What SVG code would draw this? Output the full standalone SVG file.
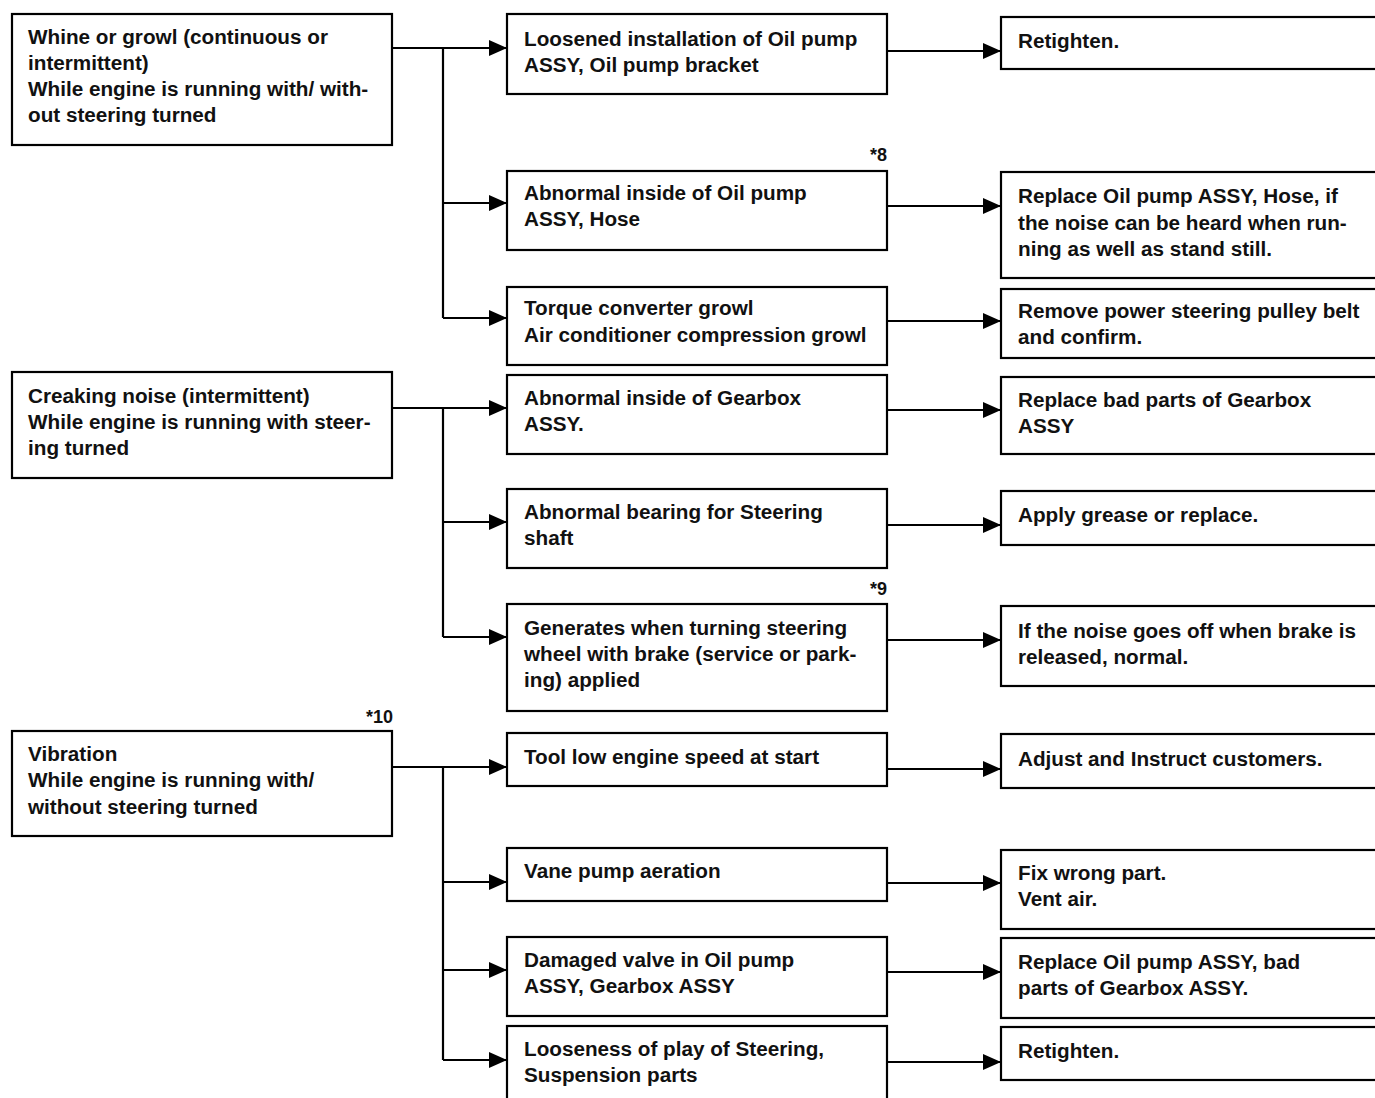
<svg xmlns="http://www.w3.org/2000/svg" width="1375" height="1098" viewBox="0 0 1375 1098">
<style>
.box{fill:#fff;stroke:#000;stroke-width:2.2}
.t{font-family:"Liberation Sans",Arial,Helvetica,sans-serif;font-size:20.7px;font-weight:bold;fill:#111}
.n{font-family:"Liberation Sans",Arial,Helvetica,sans-serif;font-size:18px;font-weight:bold;fill:#111;text-anchor:end}
.c{fill:none;stroke:#000;stroke-width:2.2}
</style>
<defs>
<marker id="ah" markerUnits="userSpaceOnUse" markerWidth="19" markerHeight="16" refX="18" refY="8" orient="auto">
<path d="M0,0 L18,8 L0,16 z" fill="#000"/>
</marker>
</defs>
<rect width="1375" height="1098" fill="#fff"/>

<g id="connectors">
<path class="c" d="M392,48 H507" marker-end="url(#ah)"/>
<path class="c" d="M443,48 V318"/>
<path class="c" d="M443,203 H507" marker-end="url(#ah)"/>
<path class="c" d="M443,318 H507" marker-end="url(#ah)"/>
<path class="c" d="M392,408 H507" marker-end="url(#ah)"/>
<path class="c" d="M443,408 V637"/>
<path class="c" d="M443,522 H507" marker-end="url(#ah)"/>
<path class="c" d="M443,637 H507" marker-end="url(#ah)"/>
<path class="c" d="M392,767 H507" marker-end="url(#ah)"/>
<path class="c" d="M443,767 V1060"/>
<path class="c" d="M443,882 H507" marker-end="url(#ah)"/>
<path class="c" d="M443,970 H507" marker-end="url(#ah)"/>
<path class="c" d="M443,1060 H507" marker-end="url(#ah)"/>
<path class="c" d="M887,51 H1001" marker-end="url(#ah)"/>
<path class="c" d="M887,206 H1001" marker-end="url(#ah)"/>
<path class="c" d="M887,321 H1001" marker-end="url(#ah)"/>
<path class="c" d="M887,410 H1001" marker-end="url(#ah)"/>
<path class="c" d="M887,525 H1001" marker-end="url(#ah)"/>
<path class="c" d="M887,640 H1001" marker-end="url(#ah)"/>
<path class="c" d="M887,769 H1001" marker-end="url(#ah)"/>
<path class="c" d="M887,883 H1001" marker-end="url(#ah)"/>
<path class="c" d="M887,972 H1001" marker-end="url(#ah)"/>
<path class="c" d="M887,1062 H1001" marker-end="url(#ah)"/>
</g>

<g id="L1"><rect class="box" x="12" y="14" width="380" height="131"/>
<text class="t" x="28" y="44">Whine or growl (continuous or</text>
<text class="t" x="28" y="70">intermittent)</text>
<text class="t" x="28" y="96">While engine is running with/ with-</text>
<text class="t" x="28" y="122">out steering turned</text></g>

<g id="L2"><rect class="box" x="12" y="372" width="380" height="106"/>
<text class="t" x="28" y="403">Creaking noise (intermittent)</text>
<text class="t" x="28" y="429">While engine is running with steer-</text>
<text class="t" x="28" y="455">ing turned</text></g>

<g id="L3"><rect class="box" x="12" y="731" width="380" height="105"/>
<text class="t" x="28" y="761">Vibration</text>
<text class="t" x="28" y="787">While engine is running with/</text>
<text class="t" x="28" y="814">without steering turned</text></g>

<g id="M1"><rect class="box" x="507" y="14" width="380" height="80"/>
<text class="t" x="524" y="46">Loosened installation of Oil pump</text>
<text class="t" x="524" y="72">ASSY, Oil pump bracket</text></g>

<g id="M2"><rect class="box" x="507" y="171" width="380" height="79"/>
<text class="t" x="524" y="200">Abnormal inside of Oil pump</text>
<text class="t" x="524" y="226">ASSY, Hose</text></g>

<g id="M3"><rect class="box" x="507" y="287" width="380" height="78"/>
<text class="t" x="524" y="315">Torque converter growl</text>
<text class="t" x="524" y="342">Air conditioner compression growl</text></g>

<g id="M4"><rect class="box" x="507" y="375" width="380" height="79"/>
<text class="t" x="524" y="405">Abnormal inside of Gearbox</text>
<text class="t" x="524" y="431">ASSY.</text></g>

<g id="M5"><rect class="box" x="507" y="489" width="380" height="79"/>
<text class="t" x="524" y="519">Abnormal bearing for Steering</text>
<text class="t" x="524" y="545">shaft</text></g>

<g id="M6"><rect class="box" x="507" y="604" width="380" height="107"/>
<text class="t" x="524" y="635">Generates when turning steering</text>
<text class="t" x="524" y="661">wheel with brake (service or park-</text>
<text class="t" x="524" y="687">ing) applied</text></g>

<g id="M7"><rect class="box" x="507" y="733" width="380" height="53"/>
<text class="t" x="524" y="764">Tool low engine speed at start</text></g>

<g id="M8"><rect class="box" x="507" y="848" width="380" height="53"/>
<text class="t" x="524" y="878">Vane pump aeration</text></g>

<g id="M9"><rect class="box" x="507" y="937" width="380" height="79"/>
<text class="t" x="524" y="967">Damaged valve in Oil pump</text>
<text class="t" x="524" y="993">ASSY, Gearbox ASSY</text></g>

<g id="M10"><rect class="box" x="507" y="1026" width="380" height="90"/>
<text class="t" x="524" y="1056">Looseness of play of Steering,</text>
<text class="t" x="524" y="1082">Suspension parts</text></g>

<g id="R1"><rect class="box" x="1001" y="17" width="400" height="52"/>
<text class="t" x="1018" y="48">Retighten.</text></g>

<g id="R2"><rect class="box" x="1001" y="172" width="400" height="106"/>
<text class="t" x="1018" y="203">Replace Oil pump ASSY, Hose, if</text>
<text class="t" x="1018" y="230">the noise can be heard when run-</text>
<text class="t" x="1018" y="256">ning as well as stand still.</text></g>

<g id="R3"><rect class="box" x="1001" y="289" width="400" height="69"/>
<text class="t" x="1018" y="318">Remove power steering pulley belt</text>
<text class="t" x="1018" y="344">and confirm.</text></g>

<g id="R4"><rect class="box" x="1001" y="377" width="400" height="77"/>
<text class="t" x="1018" y="407">Replace bad parts of Gearbox</text>
<text class="t" x="1018" y="433">ASSY</text></g>

<g id="R5"><rect class="box" x="1001" y="491" width="400" height="54"/>
<text class="t" x="1018" y="522">Apply grease or replace.</text></g>

<g id="R6"><rect class="box" x="1001" y="606" width="400" height="80"/>
<text class="t" x="1018" y="638">If the noise goes off when brake is</text>
<text class="t" x="1018" y="664">released, normal.</text></g>

<g id="R7"><rect class="box" x="1001" y="734" width="400" height="54"/>
<text class="t" x="1018" y="766">Adjust and Instruct customers.</text></g>

<g id="R8"><rect class="box" x="1001" y="850" width="400" height="79"/>
<text class="t" x="1018" y="880">Fix wrong part.</text>
<text class="t" x="1018" y="906">Vent air.</text></g>

<g id="R9"><rect class="box" x="1001" y="938" width="400" height="80"/>
<text class="t" x="1018" y="969">Replace Oil pump ASSY, bad</text>
<text class="t" x="1018" y="995">parts of Gearbox ASSY.</text></g>

<g id="R10"><rect class="box" x="1001" y="1027" width="400" height="53"/>
<text class="t" x="1018" y="1058">Retighten.</text></g>

<g id="notes">
<text class="n" x="887" y="161">*8</text>
<text class="n" x="887" y="595">*9</text>
<text class="n" x="393" y="723">*10</text>
</g>
</svg>
